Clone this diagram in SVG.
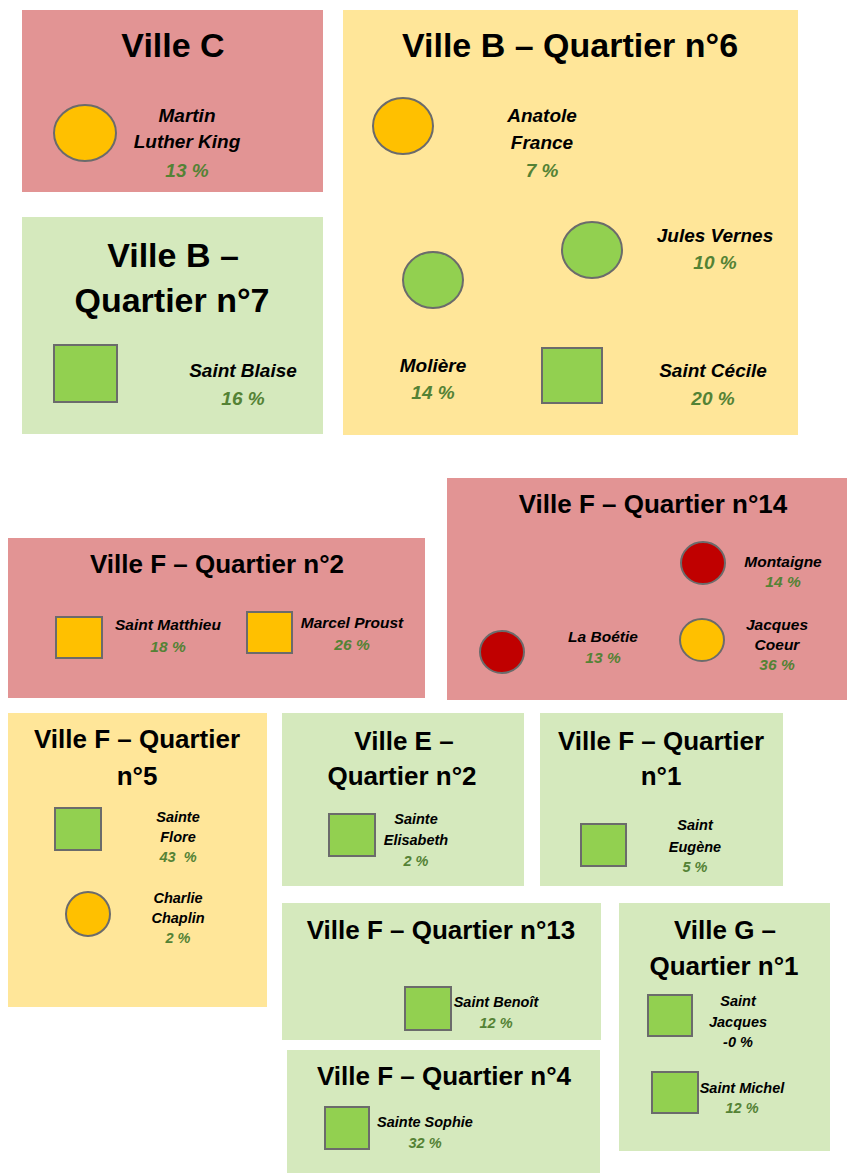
<svg xmlns="http://www.w3.org/2000/svg" width="847" height="1173" viewBox="0 0 847 1173">
  <style>
    .zr { fill: #E29494; }
    .zy { fill: #FFE699; }
    .zg { fill: #D5E9BD; }
    .title { font-family: "Liberation Sans", Arial, sans-serif; font-weight: bold; fill: #000; text-anchor: middle; }
    .t34 { font-size: 34px; }
    .t26 { font-size: 26px; }
    .lbl { font-family: "Liberation Sans", Arial, sans-serif; font-weight: bold; font-style: italic; fill: #000; text-anchor: middle; }
    .l19 { font-size: 19px; }
    .l15 { font-size: 15.5px; }
    .l14 { font-size: 14.5px; }
    .pct { fill: #548235; }
    .mk { stroke: #6B6B6B; stroke-width: 2; }
    .or { fill: #FFC000; }
    .gr { fill: #92D050; }
    .rd { fill: #C00000; }
  </style>

  <!-- Ville C -->
  <g id="ville-c">
    <rect class="zr" x="22" y="10" width="301" height="182"/>
    <text class="title t34" x="173" y="57">Ville C</text>
    <ellipse class="mk or" cx="85" cy="133" rx="31" ry="28"/>
    <text class="lbl l19" x="187" y="122">Martin</text>
    <text class="lbl l19" x="187" y="148">Luther King</text>
    <text class="lbl l19 pct" x="187" y="177">13 %</text>
  </g>

  <!-- Ville B, quartier 6 -->
  <g id="ville-b-q6">
    <rect class="zy" x="343" y="10" width="455" height="425"/>
    <text class="title t34" x="570" y="57">Ville B – Quartier n°6</text>
    <ellipse class="mk or" cx="403" cy="126" rx="30" ry="28"/>
    <text class="lbl l19" x="542" y="122">Anatole</text>
    <text class="lbl l19" x="542" y="149">France</text>
    <text class="lbl l19 pct" x="542" y="177">7 %</text>
    <ellipse class="mk gr" cx="592" cy="250" rx="30" ry="28"/>
    <text class="lbl l19" x="715" y="242">Jules Vernes</text>
    <text class="lbl l19 pct" x="715" y="269">10 %</text>
    <ellipse class="mk gr" cx="433" cy="280" rx="30" ry="28"/>
    <text class="lbl l19" x="433" y="372">Molière</text>
    <text class="lbl l19 pct" x="433" y="399">14 %</text>
    <rect class="mk gr" x="542" y="348" width="60" height="55"/>
    <text class="lbl l19" x="713" y="377">Saint Cécile</text>
    <text class="lbl l19 pct" x="713" y="405">20 %</text>
  </g>

  <!-- Ville B, quartier 7 -->
  <g id="ville-b-q7">
    <rect class="zg" x="22" y="217" width="301" height="217"/>
    <text class="title t34" x="173" y="267">Ville B –</text>
    <text class="title t34" x="172" y="312">Quartier n°7</text>
    <rect class="mk gr" x="54" y="345" width="63" height="57"/>
    <text class="lbl l19" x="243" y="377">Saint Blaise</text>
    <text class="lbl l19 pct" x="243" y="405">16 %</text>
  </g>

  <!-- Ville F, quartier 2 -->
  <g id="ville-f-q2">
    <rect class="zr" x="8" y="538" width="417" height="160"/>
    <text class="title t26" x="217" y="573">Ville F – Quartier n°2</text>
    <rect class="mk or" x="56" y="617" width="46" height="41"/>
    <text class="lbl l15" x="168" y="630">Saint Matthieu</text>
    <text class="lbl l15 pct" x="168" y="652">18 %</text>
    <rect class="mk or" x="247" y="612" width="45" height="41"/>
    <text class="lbl l15" x="352" y="628">Marcel Proust</text>
    <text class="lbl l15 pct" x="352" y="650">26 %</text>
  </g>

  <!-- Ville F, quartier 14 -->
  <g id="ville-f-q14">
    <rect class="zr" x="447" y="478" width="400" height="222"/>
    <text class="title t26" x="653" y="513">Ville F – Quartier n°14</text>
    <ellipse class="mk rd" cx="703" cy="563" rx="22" ry="21"/>
    <text class="lbl l15" x="783" y="567">Montaigne</text>
    <text class="lbl l15 pct" x="783" y="587">14 %</text>
    <ellipse class="mk or" cx="702" cy="640" rx="22" ry="21"/>
    <text class="lbl l15" x="777" y="630">Jacques</text>
    <text class="lbl l15" x="777" y="650">Coeur</text>
    <text class="lbl l15 pct" x="777" y="670">36 %</text>
    <ellipse class="mk rd" cx="502" cy="652" rx="22" ry="21"/>
    <text class="lbl l15" x="603" y="642">La Boétie</text>
    <text class="lbl l15 pct" x="603" y="663">13 %</text>
  </g>

  <!-- Ville F, quartier 5 -->
  <g id="ville-f-q5">
    <rect class="zy" x="8" y="713" width="259" height="294"/>
    <text class="title t26" x="137" y="748">Ville F – Quartier</text>
    <text class="title t26" x="137" y="785">n°5</text>
    <rect class="mk gr" x="55" y="808" width="46" height="42"/>
    <text class="lbl l14" x="178" y="822">Sainte</text>
    <text class="lbl l14" x="178" y="842">Flore</text>
    <text class="lbl l14 pct" x="178" y="862" xml:space="preserve">43  %</text>
    <ellipse class="mk or" cx="88" cy="914" rx="22" ry="22"/>
    <text class="lbl l14" x="178" y="903">Charlie</text>
    <text class="lbl l14" x="178" y="923">Chaplin</text>
    <text class="lbl l14 pct" x="178" y="943">2 %</text>
  </g>

  <!-- Ville E, quartier 2 -->
  <g id="ville-e-q2">
    <rect class="zg" x="282" y="713" width="242" height="173"/>
    <text class="title t26" x="404" y="750">Ville E –</text>
    <text class="title t26" x="402" y="785">Quartier n°2</text>
    <rect class="mk gr" x="329" y="814" width="46" height="42"/>
    <text class="lbl l14" x="416" y="824">Sainte</text>
    <text class="lbl l14" x="416" y="845">Elisabeth</text>
    <text class="lbl l14 pct" x="416" y="866">2 %</text>
  </g>

  <!-- Ville F, quartier 1 -->
  <g id="ville-f-q1">
    <rect class="zg" x="540" y="713" width="243" height="173"/>
    <text class="title t26" x="661" y="750">Ville F – Quartier</text>
    <text class="title t26" x="661" y="785">n°1</text>
    <rect class="mk gr" x="581" y="824" width="45" height="42"/>
    <text class="lbl l14" x="695" y="830">Saint</text>
    <text class="lbl l14" x="695" y="852">Eugène</text>
    <text class="lbl l14 pct" x="695" y="872">5 %</text>
  </g>

  <!-- Ville F, quartier 13 -->
  <g id="ville-f-q13">
    <rect class="zg" x="282" y="903" width="319" height="137"/>
    <text class="title t26" x="441" y="939">Ville F – Quartier n°13</text>
    <rect class="mk gr" x="405" y="987" width="46" height="43"/>
    <text class="lbl l14" x="496" y="1007">Saint Benoît</text>
    <text class="lbl l14 pct" x="496" y="1028">12 %</text>
  </g>

  <!-- Ville F, quartier 4 -->
  <g id="ville-f-q4">
    <rect class="zg" x="287" y="1050" width="313" height="123"/>
    <text class="title t26" x="444" y="1085">Ville F – Quartier n°4</text>
    <rect class="mk gr" x="325" y="1107" width="44" height="42"/>
    <text class="lbl l14" x="425" y="1127">Sainte Sophie</text>
    <text class="lbl l14 pct" x="425" y="1148">32 %</text>
  </g>

  <!-- Ville G, quartier 1 -->
  <g id="ville-g-q1">
    <rect class="zg" x="619" y="903" width="211" height="248"/>
    <text class="title t26" x="725" y="939">Ville G –</text>
    <text class="title t26" x="724" y="975">Quartier n°1</text>
    <rect class="mk gr" x="648" y="995" width="44" height="41"/>
    <text class="lbl l14" x="738" y="1006">Saint</text>
    <text class="lbl l14" x="738" y="1027">Jacques</text>
    <text class="lbl l14" x="738" y="1047">-0 %</text>
    <rect class="mk gr" x="652" y="1072" width="46" height="41"/>
    <text class="lbl l14" x="742" y="1093">Saint Michel</text>
    <text class="lbl l14 pct" x="742" y="1113">12 %</text>
  </g>
</svg>
